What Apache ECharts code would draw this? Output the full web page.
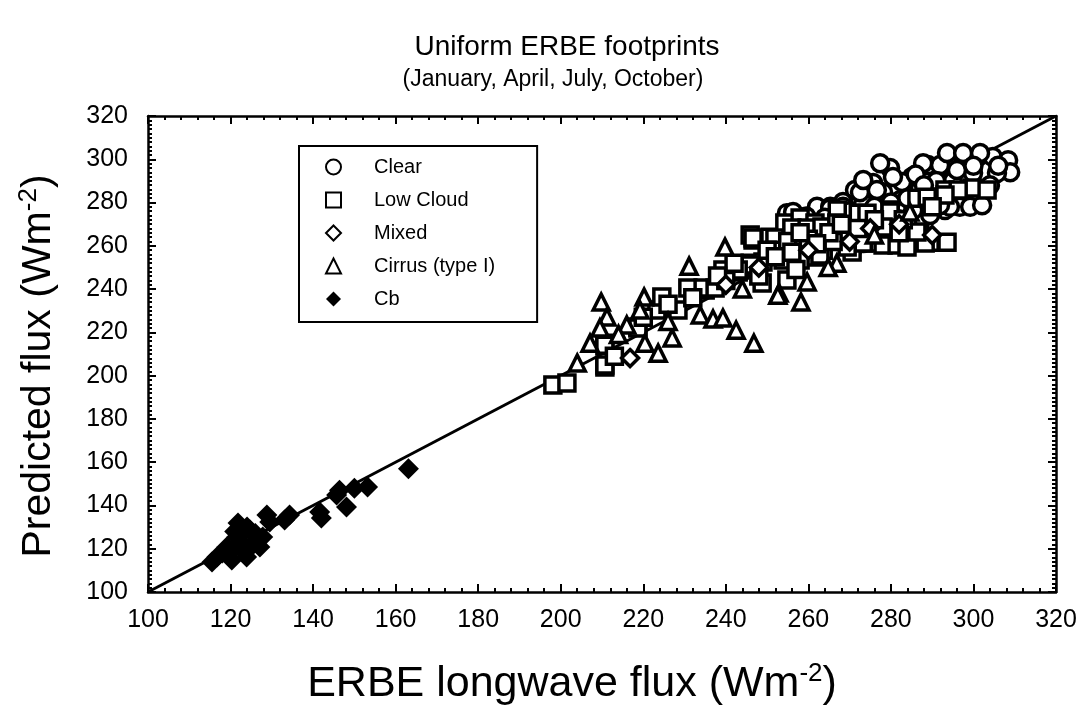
<!DOCTYPE html>
<html>
<head>
<meta charset="utf-8">
<script src="https://cdn.jsdelivr.net/npm/echarts@6/dist/echarts.min.js"></script>
<style>
  html, body { margin: 0; padding: 0; background: #fff; }
  #chart { width: 1086px; height: 713px; }
</style>
</head>
<body>
<div id="chart"></div>
<script>
// values: [ERBE flux, predicted flux]
var clearPts = [
  [279.8,296],[285.1,291.8],[289,297.3],[291.9,297.3],[297.5,301],[301.1,301],[304.7,301],[308.4,299.6],
  [308.9,294],[305.7,293.6],[299.9,293.6],[304,288],[296.7,278],[299.2,278],[302.1,278.8],[293.1,276.5],
  [282.7,289.5],[275.7,289],[278.1,284.8],[273.3,279.8],[282.2,281.1],[285.4,277.4],[289.5,274.2],
  [271.3,285.8],[270.8,271.9],[270.6,258],[254.8,275.1],[262.1,278],[265.3,278],[268.4,280.2],
  [272.5,284.8],[276.6,285.8],[273.3,290.4],[277.4,298.2],[280.5,291.8],[287.8,298.2],[293.6,302.9],
  [297.5,302.9],[301.6,302.9],[294.3,278],[291.9,278.8],[273.3,271.9],[282.9,279.8],[285.4,276.5],
  [256.3,275.6],[265.3,277.4],[268.4,278],[270.1,265.9],[273.3,261.3],[259.5,273.5],[280,272],[284,270],
  [287,286],[295,290],[306,297],[262,270],[267,274],[280,280],[284,282],[291,290],[286,293],[296,295],
  [300,297],[270,276],[264,273],[288,288],[276,278]
];
var lowCloudPts = [
  [198.1,195.7],[201.5,196.6],[210.7,204],[210.7,215],[218.7,222.5],[223.3,230.3],[224.5,236.3],
  [235,239.6],[243,247.9],[245.9,252],[246.6,262.7],[252.4,263.6],[262.1,255.7],[270.6,257.1],
  [275.4,261.3],[228.4,230.3],[218.7,222],[230.8,240.5],[210.7,214.1],[210.7,204.9],
  [245.9,265],[250.7,264],[254.3,270.5],[258,272.8],[261.6,270.5],[253.9,253.4],[249,252.5],
  [243.4,248.8],[261.6,254.8],[273.3,261.3],[278.1,260.4],[281.5,260.4],[285.4,261.7],[289.5,261.7],
  [275.7,269.6],[286.3,282],[293.1,285.8],[299.7,286.7],[279.8,276.5],[270.1,268.7],[267,276.5],
  [263.6,258],[287,265.9],[288.8,282.5],[296.3,285.8],[303.3,285.8],[293.1,283.5],[283.9,259.4],
  [288.3,261.3],[293.6,261.7],[278.1,268.2],[286.3,266.4],[279.8,275.6],
  [246.6,263.6],[251.9,263.6],[256,268.2],[259.7,268.2],[263.3,268.7],[266.9,270.5],[269.4,266.4],
  [275.4,269.6],[278.1,268.7],[262.8,255.7],[258,253.4],[251.9,258],[245.9,251.1],[243,248.8],
  [239.3,248.8],[248.8,242.8],[254.8,244.2],[234.5,240.5],[237.4,240.5],[269.4,259.4],[272.1,275.1],
  [274.2,275.1],[226,233],[232,236],[240,244],[257,249],[266,262],[283,272],[213,209],[220,227],
  [250,258],[255,262],[260,263],[265,266],[268,270],[272,268],[276,272],[258,266],[252,255],
  [248,246],[256,257],[262,261],[242,252],[238,246],[290,278],[282,266]
];
var mixedPts = [
  [216.8,208.1],[260,258],[270,262],[282,270],[248,250],[290,265],[240,242],[275,268]
];
var cirrusPts = [
  [209.8,234],[211.2,227.1],[209.5,222],[207.1,215],[204,205.8],[231.1,250.6],[220.2,236.3],
  [219.2,230.3],[216,223.4],[220.4,215],[223.6,210.4],[227,217.4],[239.8,259.4],[233.8,228],
  [236.9,226.2],[239.3,226.6],[242.5,221],[246.8,215],[252.9,238.2],[258.2,234],[259.7,243.3],
  [266.9,252],[284.6,275.6],[264.8,250],[252.6,237.2],[214,219],[226,225],[244,240],[276,265]
];
var cbPts = [
  [163.1,157],[153.2,148.5],[150,148],[146.4,147],[145.7,144.8],[148.1,139.3],[142,134.2],
  [141.6,137],[134.3,135.6],[133.1,133.3],[128.8,135.6],[129.5,132.3],[127.1,120.8],[123.9,116.2],
  [121.8,131.9],[120.3,114.8],[115.5,113.9],[116.7,116.2],[119.1,120.8],[121.5,125.4],[123,127.3],
  [124.7,128.7],[126.4,124],[127.8,125.4],[120.6,119.4],[123,119.4],[118,118],[122,122],[125,121],
  [124,130],[121,128],[126,127]
];
var oneToOne = [[100, 100], [320, 320]];
var tickMin = 100, tickMax = 320, tickStep = 20;

var font = '"Liberation Sans", Arial, Helvetica, sans-serif';
var chart = echarts.init(document.getElementById('chart'));

var hollow = { color: '#fff', borderColor: '#000', borderWidth: 3.5, opacity: 1 };
var axisBase = {
  type: 'value',
  min: tickMin,
  max: tickMax,
  interval: tickStep,
  splitLine: { show: false },
  axisLine: { show: true, onZero: false, lineStyle: { color: '#000', width: 2.5 } },
  axisTick: { show: true, inside: true, length: 8, lineStyle: { color: '#000', width: 2 } },
  minorTick: { show: true, length: 4, lineStyle: { color: '#000', width: 2 } }
};
var supRich = { sup: { fontSize: 26, fontFamily: font, color: '#000', padding: [0, 0, 20, 0] } };

chart.setOption({
  animation: false,
  backgroundColor: '#fff',
  title: [
    {
      text: 'Uniform ERBE footprints',
      left: 567, top: 33, textAlign: 'center', padding: 0,
      textStyle: { fontFamily: font, fontSize: 28, fontWeight: 'normal', color: '#000' }
    },
    {
      text: '(January, April, July, October)',
      left: 553, top: 68, textAlign: 'center', padding: 0,
      textStyle: { fontFamily: font, fontSize: 23, fontWeight: 'normal', color: '#000' }
    }
  ],
  legend: {
    data: ['Clear', 'Low Cloud', 'Mixed', 'Cirrus (type I)', 'Cb'],
    orient: 'vertical',
    left: 299,
    top: 146,
    selectedMode: false,
    borderColor: '#000',
    borderWidth: 2,
    padding: [10, 42, 12, 26],
    itemGap: 11,
    itemWidth: 15,
    itemHeight: 15,
    textStyle: { fontFamily: font, fontSize: 20, color: '#000', lineHeight: 22, padding: [0, 0, 0, 28] }
  },
  grid: { left: 148, right: 30, top: 116, bottom: 121 },
  xAxis: [
    Object.assign({}, axisBase, {
      position: 'bottom',
      minorTick: Object.assign({}, axisBase.minorTick, { splitNumber: 5 }),
      axisLabel: { fontFamily: font, fontSize: 25, color: '#000', margin: 16 },
      name: 'ERBE longwave flux (Wm{sup|-2})',
      nameLocation: 'middle',
      nameGap: 69,
      nameTextStyle: { fontFamily: font, fontSize: 43, color: '#000', padding: [0, 60, 0, 0], rich: supRich }
    }),
    Object.assign({}, axisBase, {
      position: 'top',
      minorTick: Object.assign({}, axisBase.minorTick, { splitNumber: 5 }),
      axisLabel: { show: false }
    })
  ],
  yAxis: [
    Object.assign({}, axisBase, {
      position: 'left',
      minorTick: Object.assign({}, axisBase.minorTick, { splitNumber: 10 }),
      axisLabel: { fontFamily: font, fontSize: 25, color: '#000', margin: 20 },
      name: 'Predicted flux (Wm{sup|-2})',
      nameLocation: 'middle',
      nameRotate: 90,
      nameGap: 86,
      nameTextStyle: { fontFamily: font, fontSize: 41, color: '#000', padding: [0, 24, 0, 0], rich: supRich }
    }),
    Object.assign({}, axisBase, {
      position: 'right',
      minorTick: Object.assign({}, axisBase.minorTick, { splitNumber: 10 }),
      axisLabel: { show: false }
    })
  ],
  series: [
    {
      name: 'one-to-one', type: 'line', data: oneToOne, symbol: 'none', silent: true,
      lineStyle: { color: '#000', width: 3 }, z: 1
    },
    { name: 'Clear', type: 'scatter', data: clearPts, symbol: 'circle', symbolSize: 17, itemStyle: hollow },
    { name: 'Low Cloud', type: 'scatter', data: lowCloudPts, symbol: 'rect', symbolSize: 16, itemStyle: hollow },
    { name: 'Mixed', type: 'scatter', data: mixedPts, symbol: 'diamond', symbolSize: 17, itemStyle: hollow },
    { name: 'Cirrus (type I)', type: 'scatter', data: cirrusPts, symbol: 'triangle', symbolSize: 16, itemStyle: hollow },
    { name: 'Cb', type: 'scatter', data: cbPts, symbol: 'diamond', symbolSize: 21, itemStyle: { color: '#000', opacity: 1 } }
  ]
});
</script>
</body>
</html>
